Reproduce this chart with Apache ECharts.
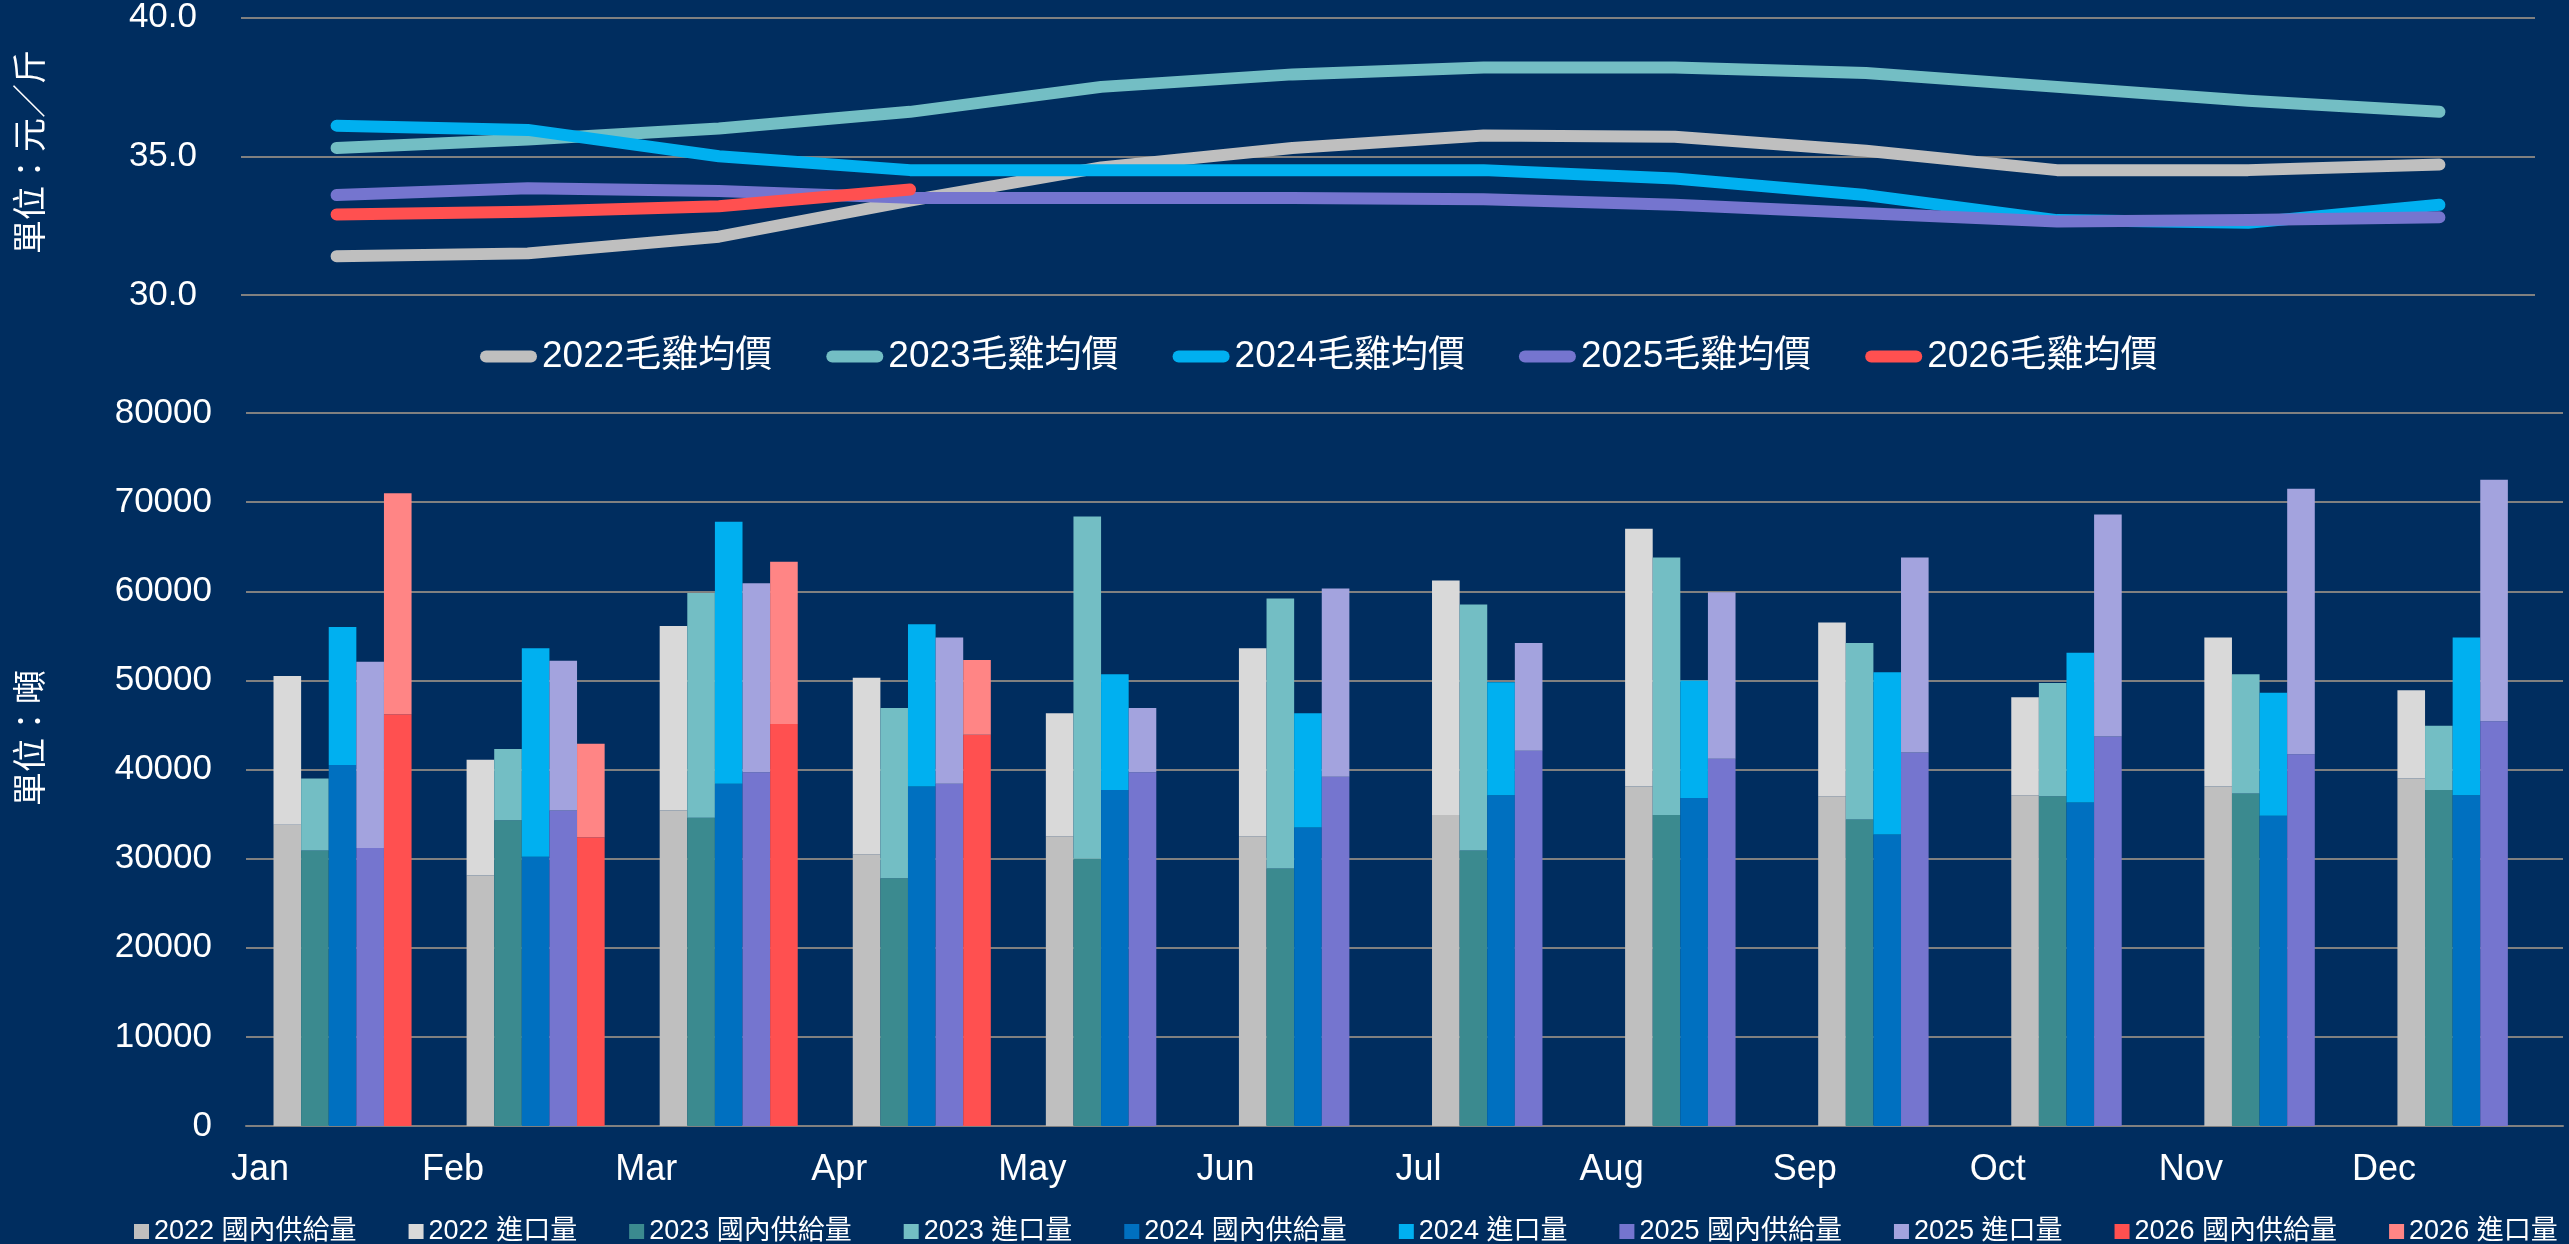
<!DOCTYPE html>
<html>
<head>
<meta charset="utf-8">
<title>毛雞均價與供給量</title>
<script src="https://cdn.jsdelivr.net/npm/echarts@6/dist/echarts.min.js"></script>
<style>
  html, body { margin: 0; padding: 0; background: #002D5F; }
  #chart { width: 2569px; height: 1244px; }
</style>
</head>
<body>
<div id="chart"></div>
<script>
// Months on both category axes
const months = ['Jan', 'Feb', 'Mar', 'Apr', 'May', 'Jun', 'Jul', 'Aug', 'Sep', 'Oct', 'Nov', 'Dec']

// Average broiler price, 元/斤
const price2022 = [31.4, 31.5, 32.1, 33.4, 34.6, 35.3, 35.75, 35.7, 35.2, 34.5, 34.5, 34.7]
const price2023 = [35.3, 35.6, 36.0, 36.6, 37.5, 37.95, 38.2, 38.2, 38.0, 37.5, 37.0, 36.6]
const price2024 = [36.1, 35.95, 35.0, 34.5, 34.5, 34.5, 34.5, 34.2, 33.6, 32.7, 32.6, 33.25]
const price2025 = [33.6, 33.85, 33.75, 33.5, 33.5, 33.5, 33.45, 33.25, 32.95, 32.65, 32.7, 32.8]
const price2026 = [32.9, 33.0, 33.2, 33.8]

// Supply, 噸 : domestic (bottom of stack) and imports (top of stack)
const domestic2022 = [33800, 28100, 35400, 30500, 32500, 32500, 34900, 38100, 37000, 37100, 38100, 39000]
const import2022 = [16700, 13000, 20700, 19800, 13800, 21100, 26300, 28900, 19500, 11000, 16700, 9900]
const domestic2023 = [30900, 34300, 34600, 27800, 30000, 28900, 30900, 34900, 34400, 37000, 37300, 37700]
const import2023 = [8100, 8000, 25200, 19100, 38400, 30300, 27600, 28900, 19800, 12700, 13400, 7200]
const domestic2024 = [40500, 30200, 38400, 38100, 37700, 33500, 37100, 36800, 32700, 36300, 34800, 37100]
const import2024 = [15500, 23400, 29400, 18200, 13000, 12800, 12700, 13200, 18200, 16800, 13800, 17700]
const domestic2025 = [31200, 35400, 39700, 38400, 39700, 39200, 42100, 41200, 41900, 43700, 41700, 45400]
const import2025 = [20900, 16800, 21200, 16400, 7200, 21100, 12100, 18700, 21900, 24900, 29800, 27100]
const domestic2026 = [46200, 32400, 45100, 43900]
const import2026 = [24800, 10500, 18200, 8400]

const fontFamily = "'Liberation Sans', 'Noto Sans CJK TC', sans-serif"
const gridColor = '#808080'

const lineDefs = [
  { name : '2022毛雞均價', data : price2022, color : '#BFBFBF' },
  { name : '2023毛雞均價', data : price2023, color : '#73BEC4' },
  { name : '2024毛雞均價', data : price2024, color : '#00B0F0' },
  { name : '2025毛雞均價', data : price2025, color : '#7575CF' },
  { name : '2026毛雞均價', data : price2026, color : '#FF5050' }
]

const barDefs = [
  { year : '2022', domestic : domestic2022, imports : import2022, colors : ['#BFBFBF', '#D9D9D9'] },
  { year : '2023', domestic : domestic2023, imports : import2023, colors : ['#3B8A8F', '#73BEC4'] },
  { year : '2024', domestic : domestic2024, imports : import2024, colors : ['#0070C0', '#00B0F0'] },
  { year : '2025', domestic : domestic2025, imports : import2025, colors : ['#7575CF', '#A3A3DE'] },
  { year : '2026', domestic : domestic2026, imports : import2026, colors : ['#FF5050', '#FF8585'] }
]

const series = []
lineDefs.forEach( d => {
  series.push( {
    name : d.name,
    type : 'line',
    xAxisIndex : 0,
    yAxisIndex : 0,
    data : d.data,
    showSymbol : false,
    itemStyle : { color : d.color },
    lineStyle : { color : d.color, width : 12, cap : 'round', join : 'round' }
  } )
} )

const barNames = []
barDefs.forEach( d => {
  const parts = [
    { name : `${d.year} 國內供給量`, data : d.domestic, color : d.colors[0] },
    { name : `${d.year} 進口量`, data : d.imports, color : d.colors[1] }
  ]
  parts.forEach( p => {
    barNames.push( p.name )
    series.push( {
      name : p.name,
      type : 'bar',
      stack : d.year,
      xAxisIndex : 1,
      yAxisIndex : 1,
      data : p.data,
      barGap : '0%',
      barCategoryGap : '28.5%',
      itemStyle : { color : p.color }
    } )
  } )
} )

const chart = echarts.init( document.getElementById( 'chart' ) )

chart.setOption( {
  backgroundColor : '#002D5F',
  animation : false,
  textStyle : { fontFamily : fontFamily },
  legend : [
    {
      data : lineDefs.map( d => d.name ),
      left : 475,
      top : 333,
      itemWidth : 57,
      itemHeight : 12,
      itemGap : 54,
      icon : 'path://M6,0 H51 A6,6 0 0 1 51,12 H6 A6,6 0 0 1 6,0 Z',
      textStyle : { color : '#fff', fontSize : 37, fontFamily : fontFamily }
    },
    {
      data : barNames,
      left : 129,
      top : 1213,
      width : 2440,
      itemWidth : 15,
      itemHeight : 15,
      itemGap : 52,
      icon : 'rect',
      textStyle : { color : '#fff', fontSize : 27, fontFamily : fontFamily }
    }
  ],
  grid : [
    { left : 241, right : 34, top : 17, height : 278 },
    { left : 246, right : 6, top : 413, height : 713 }
  ],
  xAxis : [
    {
      type : 'category',
      gridIndex : 0,
      data : months,
      show : false
    },
    {
      type : 'category',
      gridIndex : 1,
      data : months,
      axisLine : { lineStyle : { color : gridColor, width : 2 } },
      axisTick : { show : false },
      axisLabel : {
        color : '#fff',
        fontSize : 36,
        margin : 26,
        interval : 0,
        padding : [0, 165, 0, 0]
      }
    }
  ],
  yAxis : [
    {
      type : 'value',
      gridIndex : 0,
      min : 30,
      max : 40,
      interval : 5,
      axisLine : { show : false },
      axisTick : { show : false },
      axisLabel : {
        color : '#fff',
        fontSize : 35,
        margin : 44,
        formatter : v => v.toFixed( 1 )
      },
      splitLine : { lineStyle : { color : gridColor, width : 2 } }
    },
    {
      type : 'value',
      gridIndex : 1,
      min : 0,
      max : 80000,
      interval : 10000,
      axisLine : { show : false },
      axisTick : { show : false },
      axisLabel : {
        color : '#fff',
        fontSize : 35,
        margin : 34,
        formatter : v => String( v )
      },
      splitLine : { lineStyle : { color : gridColor, width : 2 } }
    }
  ],
  graphic : [
    {
      type : 'text',
      x : 33,
      y : 152,
      rotation : Math.PI / 2,
      style : {
        text : '單位：元／斤',
        fill : '#fff',
        font : `34px ${fontFamily}`,
        textAlign : 'center',
        textVerticalAlign : 'middle'
      }
    },
    {
      type : 'text',
      x : 33,
      y : 738,
      rotation : Math.PI / 2,
      style : {
        text : '單位：噸',
        fill : '#fff',
        font : `34px ${fontFamily}`,
        textAlign : 'center',
        textVerticalAlign : 'middle'
      }
    }
  ],
  series : series
} )

window.addEventListener( 'resize', () => chart.resize() )
</script>
</body>
</html>
